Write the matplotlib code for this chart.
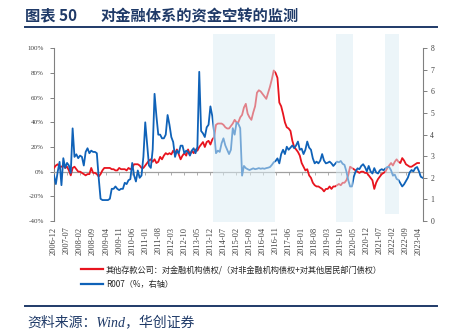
import numpy as np
import pandas as pd
import matplotlib
matplotlib.use('Agg')
import matplotlib.pyplot as plt
import matplotlib.transforms as mtransforms
from matplotlib.patches import Rectangle
from matplotlib.lines import Line2D

plt.rcParams['font.family'] = ['Liberation Serif', 'Noto Sans CJK SC', 'DejaVu Sans']
CJK = ['Noto Sans CJK SC', 'DejaVu Sans']

start_month = '2006-12'

# 其他存款公司：对金融机构债权/（对非金融机构债权+对其他居民部门债权）, %, monthly from 2006-12
ratio = [
    3, 5, 6, 4, 4, 5, 3, 4, 1, -3,
    3, 4, 2, 0, 0, -1, -2, -3, -2, -2,
    3, -1, -1, -2, -4, -2, 1, 3, 3, 3,
    3, 2, 2, 1, 1, 3, 2, 2, 2, 1,
    3, 2, 3, 6, 6, 6, 5, 3, 3, 5,
    7, 9, 10, 8, 10, 7, 8, 12, 10, 13,
    15, 14, 15, 14, 17, 15, 18, 14, 10, 13,
    15, 13, 18, 14, 17, 15, 18, 17, 20, 22,
    24, 20, 24, 25, 22, 26, 28, 38, 39, 39,
    39, 38, 36, 35, 35, 37, 39, 42, 40, 40,
    44, 46, 52, 55, 47, 44, 42, 48, 53, 64,
    66, 65, 63, 61, 59, 64, 69, 75, 82, 80,
    76, 56, 53, 47, 40, 36, 35, 33, 25, 20,
    18, 16, 13, 7, 4, 1, 2, -3, -5, -9,
    -11, -12, -12, -13, -14, -16, -14, -14, -12, -14,
    -12, -12, -11, -10, -11, -9, -9, -7, -3, 4,
    3, 2, 1, 0, -1, 0, 0, -1, -1, -3,
    -5, -7, -14, -9, -6, -4, -2, -1, 0, 3,
    5, 7, 5, 8, 10, 8, 7, 11, 9, 6,
    5, 4, 4, 5, 6, 7, 7,
]

# R007 (%, right axis), monthly from 2006-12
r007 = [
    2.11, 1.71, 2.29, 2.74, 1.66, 2.91, 2.46, 2.69, 2.57, 2.23,
    4.29, 2.97, 3.09, 2.91, 3.03, 2.97, 2.57, 3.20, 3.37, 3.14,
    3.26, 3.20, 3.20, 3.14, 2.00, 1.03, 0.97, 0.97, 0.97, 0.97,
    1.03, 1.49, 1.49, 1.60, 1.49, 1.43, 1.49, 1.49, 1.77, 1.71,
    1.89, 1.94, 2.69, 2.11, 1.83, 2.34, 2.00, 2.11, 2.97, 4.57,
    3.54, 2.57, 2.46, 3.31, 5.89, 4.86, 4.00, 4.00, 3.83, 3.83,
    4.00, 4.91, 4.46, 3.89, 3.66, 2.97, 3.26, 3.14, 3.49, 3.49,
    3.14, 3.26, 3.20, 3.03, 3.26, 3.37, 3.14, 3.43, 6.91, 4.17,
    4.06, 3.89, 4.34, 4.46, 5.31, 4.86, 4.11, 3.14, 3.26, 3.20,
    3.60, 3.83, 3.50, 3.30, 3.10, 3.30, 4.30, 4.00, 4.55, 4.50,
    4.30, 2.10, 2.55, 2.45, 2.40, 2.36, 2.40, 2.44, 2.40, 2.42,
    2.45, 2.42, 2.44, 2.42, 2.45, 2.47, 2.50, 2.60, 2.72, 2.78,
    2.90, 2.67, 3.10, 3.30, 3.10, 3.44, 3.30, 3.40, 3.50, 3.37,
    3.50, 3.68, 3.30, 3.35, 3.10, 3.30, 3.68, 3.40, 3.30, 2.90,
    2.67, 2.75, 2.67, 2.80, 3.10, 2.80, 2.67, 2.70, 2.75, 2.67,
    2.55, 2.65, 2.75, 2.72, 2.78, 2.65, 2.60, 2.30, 1.90, 1.60,
    1.60, 2.05, 2.30, 2.44, 2.40, 2.55, 2.63, 2.50, 2.30, 2.55,
    2.30, 2.20, 2.45, 2.25, 2.20, 2.35, 2.40, 2.35, 2.44, 2.50,
    2.50, 2.35, 2.10, 2.15, 1.95, 1.90, 1.75, 1.60, 1.70, 1.85,
    2.00, 2.25, 2.36, 2.30, 2.45, 2.50, 2.30, 2.05, 2.00,
]

shade_periods = [('2014-02', '2016-11'), ('2019-08', '2020-05'), ('2021-10', '2022-06')]

label_ratio = '其他存款公司：对金融机构债权/（对非金融机构债权+对其他居民部门债权）'
label_r007 = 'R007（%，右轴）'

months = pd.period_range(start_month, periods=len(r007), freq='M')
p0 = pd.Period(start_month, freq='M')
def midx(s):
    return (pd.Period(s, freq='M') - p0).n

x_ratio = np.arange(len(ratio))
x_r007 = np.arange(len(r007))
tick_pos = np.arange(0, len(ratio), 7)
tick_labels = [months[i].strftime('%Y-%m') for i in tick_pos]

navy = '#1f3a68'
spine_c = '#808080'
txt_c = '#404040'

W, H = 452, 331
fig = plt.figure(figsize=(W / 100, H / 100), dpi=100)
ax1 = fig.add_axes([54 / W, 1 - 221 / H, (422.7 - 54) / W, (221 - 48.3) / H])
ax2 = ax1.twinx()

l1, = ax1.plot(x_ratio, ratio, color='#e8141e', lw=1.3, zorder=3)
l2, = ax2.plot(x_r007, r007, color='#0f62b8', lw=1.3, zorder=3)

ax1.set_xlim(0, 198)
ax1.set_ylim(-40, 100)
ax2.set_ylim(0, 8)

yt = np.arange(-40, 101, 20)
ax1.set_yticks(yt, [f'{v}%' for v in yt])
ax2.set_yticks(np.arange(0, 9, 1))

for a in (ax1, ax2):
    a.spines['top'].set_visible(False)
ax1.spines['right'].set_visible(False)
ax2.spines['left'].set_visible(False)
ax2.spines['bottom'].set_visible(False)
ax1.spines['left'].set_color(spine_c)
ax2.spines['right'].set_color(spine_c)
ax1.spines['left'].set_linewidth(0.8)
ax2.spines['right'].set_linewidth(0.8)

# zero line with month ticks
ax1.spines['bottom'].set_position(('data', 0))
ax1.spines['bottom'].set_color('#a0a0a0')
ax1.spines['bottom'].set_linewidth(0.9)
ax1.set_xticks(tick_pos)
ax1.tick_params(axis='x', length=2, width=0.6, direction='out', color='#a0a0a0', labelbottom=False)

ax1.tick_params(axis='y', length=3.2, width=0.7, color=spine_c, labelsize=5, labelcolor=txt_c, pad=4)
ax2.tick_params(axis='y', length=3, width=0.7, color=spine_c, labelsize=5.5, labelcolor=txt_c, pad=2.5)

sec = ax1.secondary_xaxis('bottom')
sec.set_xticks(tick_pos, tick_labels)
sec.spines['bottom'].set_visible(False)
sec.tick_params(length=0, pad=4, labelsize=6, labelrotation=90, labelcolor=txt_c)

# shaded periods
trans = mtransforms.blended_transform_factory(ax2.transData, ax2.transAxes)
for i, (s, e) in enumerate(shade_periods):
    x0 = midx(s) - 0.5
    x1 = midx(e) - 0.5
    y0 = 0.04 if i == 2 else -0.006
    ax2.add_patch(Rectangle((x0, y0), x1 - x0, 1.083 - y0, transform=trans,
                            facecolor=(0.86, 0.93, 0.955), alpha=0.5,
                            edgecolor='none', clip_on=False, zorder=5))

# title and rules
fig.text(25 / W, 1 - 15.5 / H, '图表 50', fontsize=11, fontweight='bold', color=navy,
         va='center', ha='left', family=CJK)
fig.text(101 / W, 1 - 15.5 / H, '对金融体系的资金空转的监测', fontsize=11, fontweight='bold',
         color=navy, va='center', ha='left', family=CJK)
fig.add_artist(Line2D([25 / W, 437 / W], [1 - 27.3 / H] * 2, transform=fig.transFigure,
                      color=navy, lw=1.4))
fig.add_artist(Line2D([25 / W, 437 / W], [1 - 306 / H] * 2, transform=fig.transFigure,
                      color=navy, lw=1.4))
fig.text(27 / W, 1 - 322.5 / H, '资料来源：Wind，华创证券', fontsize=10, style='italic',
         color=navy, va='center', ha='left',
         family=['Liberation Serif', 'Noto Sans CJK SC', 'DejaVu Sans'])

leg = fig.legend(handles=[l1, l2], labels=[label_ratio, label_r007], loc='upper left',
                 bbox_to_anchor=(81 / W, 1 - 265 / H), frameon=False,
                 prop={'family': CJK, 'size': 5.9}, handlelength=2.7, handletextpad=0.35,
                 labelspacing=0.7, borderpad=0, borderaxespad=0)
for t in leg.get_texts():
    t.set_color('#262626')
for h in leg.legend_handles:
    h.set_linewidth(1.6)

fig.savefig('out.png', dpi=100)
